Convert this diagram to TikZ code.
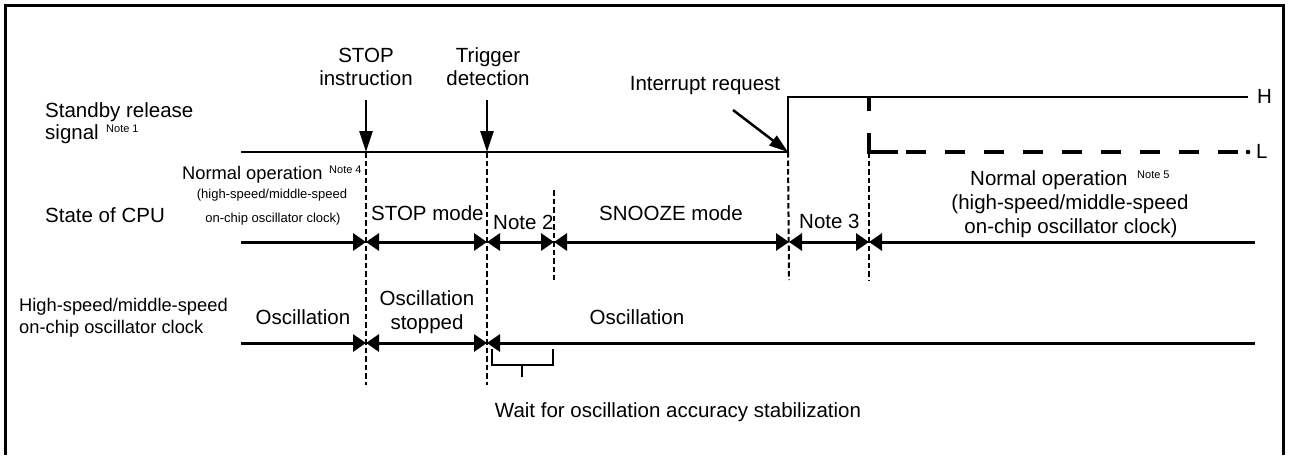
\documentclass[tikz,border=0pt]{standalone}
\usepackage{fontspec}
\setmainfont{Liberation Sans}
\usetikzlibrary{arrows.meta}
\begin{document}
\begin{tikzpicture}[x=1pt,y=-1pt,
  lbl/.style={inner sep=0pt, font=\fontsize{20.5}{24}\selectfont},
  lblm/.style={inner sep=0pt, font=\fontsize{18.3}{22}\selectfont},
  lbls/.style={inner sep=0pt, font=\fontsize{13}{15}\selectfont},
  notesup/.style={inner sep=0pt, font=\fontsize{11}{13}\selectfont},
  frame/.style={line width=3pt},
  sig/.style={line width=1.5pt},
  tl/.style={line width=3pt},
  vdash/.style={line width=2pt, dash pattern=on 5.5pt off 3pt},
  ldash/.style={line width=4pt},
  brk/.style={line width=1.5pt},
  bowtip/.tip={Triangle[length=13pt,width=17pt]},
  evarrow/.style={line width=2.5pt, -{Triangle[length=21pt,width=13pt]}},
  irqarrow/.style={line width=2.5pt, -{Triangle[length=19pt,width=12pt]}}
]
\useasboundingbox (0,0) rectangle (1289,455);
% frame (open at the bottom)
\draw[frame] (5.5,455) -- (5.5,5.5) -- (1283.5,5.5) -- (1283.5,455);

% key coordinates
\coordinate (s0) at (241,152);
\coordinate (sRise) at (788,152);
\coordinate (sHigh) at (788,97);
\coordinate (sEnd) at (1248,97);
\coordinate (tStop) at (366,152);
\coordinate (tTrig) at (487,152);

% standby release signal
\draw[sig] (s0) -- (sRise) -- (sHigh) -- (sEnd);
% L level (thick dashed)
\draw[ldash] (869,97) -- (869,111);
\draw[ldash] (869,133) -- (869,152) -- (898,152);
\draw[ldash, dash pattern=on 20pt off 19pt] (906,152) -- (1240,152);
\fill (1248,152) circle (2.3pt);

% event arrows
\coordinate (aStop) at (366,100);
\coordinate (aTrig) at (487,100);
\coordinate (aIrq) at (733,110);
\draw[evarrow] (aStop) -- (tStop);
\draw[evarrow] (aTrig) -- (tTrig);
\draw[irqarrow] (aIrq) -- (sRise);

% dashed verticals
\draw[vdash] (tStop) -- (366,385);
\draw[vdash] (tTrig) -- (487,385);
\draw[vdash] (554,190) -- (554,280);
\draw[vdash] (sRise) -- (789,280);
\draw[vdash] (869,152) -- (869,280);

% CPU time line
\coordinate (c0) at (241,242);
\coordinate (c1) at (366,242);
\coordinate (c2) at (487,242);
\coordinate (c3) at (554,242);
\coordinate (c4) at (789,242);
\coordinate (c5) at (869,242);
\coordinate (c6) at (1255,242);
\draw[tl, -bowtip] (c0) -- (c1);
\draw[tl, bowtip-bowtip] (c1) -- (c2);
\draw[tl, bowtip-bowtip] (c2) -- (c3);
\draw[tl, bowtip-bowtip] (c3) -- (c4);
\draw[tl, bowtip-bowtip] (c4) -- (c5);
\draw[tl, bowtip-] (c5) -- (c6);

% oscillator time line
\coordinate (o0) at (241,343);
\coordinate (o1) at (366,343);
\coordinate (o2) at (487,343);
\coordinate (o3) at (1255,343);
\draw[tl, -bowtip] (o0) -- (o1);
\draw[tl, bowtip-bowtip] (o1) -- (o2);
\draw[tl, bowtip-] (o2) -- (o3);

% bracket
\draw[brk] (492,349) -- (492,365) -- (553,365) -- (553,349);
\draw[brk] (522,365) -- (522,377);

% texts: top events
\node[lbl, anchor=base] (stop1) at (366,62) {STOP};
\node[lbl, anchor=base] (stop2) at (366,85) {instruction};
\node[lbl, anchor=base] (trg1) at (488,62) {Trigger};
\node[lbl, anchor=base] (trg2) at (488,85) {detection};
\node[lbl, anchor=base] (irq) at (705,90) {Interrupt request};

% row labels
\node[lbl, anchor=base west] (sb1) at (45,117) {Standby release};
\node[lbl, anchor=base west] (sb2) at (45,139) {signal};
\node[notesup, anchor=base west] (n1) at (106,132) {Note 1};
\node[lbl, anchor=base west] (cpu) at (45,222) {State of CPU};
\node[lblm, anchor=base west] (hs1) at (19,311) {High-speed/middle-speed};
\node[lblm, anchor=base west] (hs2) at (19,333) {on-chip oscillator clock};

\node[lbl, anchor=base west] (H) at (1257,103) {H};
\node[lbl, anchor=base west] (L) at (1256,158) {L};

% CPU states
\node[lblm, anchor=base west] (no1) at (182,179) {Normal operation};
\node[notesup, anchor=base west] (n4) at (329,173) {Note 4};
\node[lbls, anchor=base] (no1b) at (272,198) {(high-speed/middle-speed};
\node[lbls, anchor=base] (no1c) at (273,222) {on-chip oscillator clock)};
\node[lbl, anchor=base west] (stopm) at (371,220) {STOP mode};
\node[lbl, anchor=base west] (n2) at (493,229) {Note 2};
\node[lbl, anchor=base west] (snz) at (599,220) {SNOOZE mode};
\node[lbl, anchor=base west] (n3) at (799,228) {Note 3};
\node[lbl, anchor=base west] (no2) at (970,185) {Normal operation};
\node[notesup, anchor=base west] (n5) at (1137,178) {Note 5};
\node[lbl, anchor=base] (no2b) at (1070,209) {(high-speed/middle-speed};
\node[lbl, anchor=base] (no2c) at (1071,233) {on-chip oscillator clock)};

% oscillator states
\node[lbl, anchor=base] (osc1) at (303,324) {Oscillation};
\node[lbl, anchor=base] (osc2a) at (427,305) {Oscillation};
\node[lbl, anchor=base] (osc2b) at (427,329) {stopped};
\node[lbl, anchor=base] (osc3) at (637,324) {Oscillation};
\node[lbl, anchor=base] (wait) at (678,417) {Wait for oscillation accuracy stabilization};
\end{tikzpicture}
\end{document}
